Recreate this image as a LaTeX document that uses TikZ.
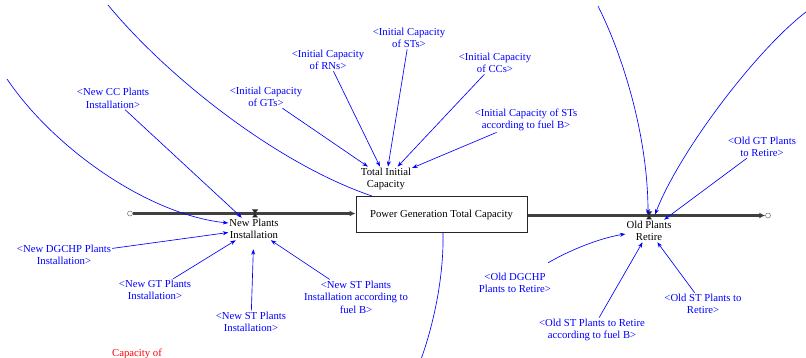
\documentclass[tikz,border=0pt]{standalone}
\usepackage{fontspec}
\setmainfont{Liberation Serif}
\usetikzlibrary{arrows.meta,calc}
\begin{document}
\begin{tikzpicture}[x=1pt,y=-1pt,
  var/.style={font=\fontsize{10.7}{12.6}\selectfont, align=center, inner sep=1pt},
  shad/.style={var, text=blue},
  link/.style={draw=blue, line width=0.65pt, -{Stealth[length=5.5pt,width=4pt]}},
  plainlink/.style={draw=blue, line width=0.65pt},
  pipe/.style={draw=black!75, line width=3pt},
  pipetip/.style={-{Latex[length=6pt,width=6pt]}},
  cloud/.style={circle, draw=black!55, line width=0.5pt, inner sep=0pt, minimum size=5pt},
  stockbox/.style={draw=black!85, line width=1pt, fill=white, minimum width=171pt, minimum height=36pt, inner sep=0pt, font=\fontsize{10.7}{12.6}\selectfont},
  valvefill/.style={fill=black!85}]
\useasboundingbox (0,0) rectangle (806,358);
\clip (0,0) rectangle (806,358);

% stock and flow variables
\node[stockbox] (pgtc) at (441.5,214.5) {Power Generation Total Capacity};
\node[var] (tic) at (386,179) {Total Initial\\Capacity};
\node[var] (npi) at (254,229) {New Plants\\Installation};
\node[var] (opr) at (649,231) {Old Plants\\Retire};

% shadow variables
\node[shad] (igt) at (266,97) {<Initial Capacity\\of GTs>};
\node[shad] (irn) at (328,60) {<Initial Capacity\\of RNs>};
\node[shad] (ist) at (409,38) {<Initial Capacity\\of STs>};
\node[shad] (icc) at (495,63) {<Initial Capacity\\of CCs>};
\node[shad] (isb) at (526,120) {<Initial Capacity of STs\\according to fuel B>};
\node[shad] (ogt) at (762,147) {<Old GT Plants\\to Retire>};
\node[shad] (ncc) at (113,98.5) {<New CC Plants\\Installation>};
\node[shad] (ndg) at (64,255) {<New DGCHP Plants\\Installation>};
\node[shad] (ngt) at (155,290) {<New GT Plants\\Installation>};
\node[shad] (nst) at (251,322) {<New ST Plants\\Installation>};
\node[shad] (nsb) at (356,297) {<New ST Plants\\Installation according to\\fuel B>};
\node[shad] (odg) at (515,283) {<Old DGCHP\\Plants to Retire>};
\node[shad] (osb) at (592,330) {<Old ST Plants to Retire\\according to fuel B>};
\node[shad] (ost) at (703,304) {<Old ST Plants to\\Retire>};
\node[var, text=red, anchor=base] (cap) at (137,356.5) {Capacity of};

% clouds and valves
\node[cloud] (srcC) at (130,213.5) {};
\node[cloud] (snkC) at (768,215.5) {};
\coordinate (v1) at (255,213.5);
\coordinate (v2) at (649,215.5);

% pipes
\draw[pipe,pipetip] (srcC.east) -- (pgtc.west |- srcC);
\draw[pipe,pipetip] (pgtc.east |- snkC) -- (snkC.west);
\fill[valvefill] ($(v1)+(-3,-4)$) -- ($(v1)+(3,-4)$) -- ($(v1)+(-3,4)$) -- ($(v1)+(3,4)$) -- cycle;
\fill[valvefill] ($(v2)+(-3,-4)$) -- ($(v2)+(3,-4)$) -- ($(v2)+(-3,4)$) -- ($(v2)+(3,4)$) -- cycle;

% free ends of off-picture connectors
\coordinate (c1s) at (7,79);
\coordinate (c2e) at (108,5);
\coordinate (c3s) at (598,6);
\coordinate (c4s) at (810,9);
\coordinate (c5e) at (420,362);

% links
\draw[link] (igt) -- (tic);
\draw[link] (irn) -- (tic);
\draw[link] (ist) -- (tic);
\draw[link] (icc) -- (tic);
\draw[link] (isb) -- (tic);
\draw[link] (ncc) -- (npi);
\draw[link] (ndg) -- (npi);
\draw[link] (ngt) -- (npi);
\draw[link, shorten >=9pt] (nst) -- (npi);
\draw[link] (nsb) -- (npi);
\draw[link] (ogt) -- (opr);
\draw[link] (osb) -- (opr);
\draw[link] (ost) -- (opr);
\draw[link] ([shift={(-4,-9)}]odg.north east) .. controls (570,250) and (600,238) .. ([shift={(0,3)}]opr.west);
\draw[link] (c1s) .. controls (55,150) and (150,215) .. ([shift={(0,-6)}]npi.west);
\draw[plainlink] ([shift={(-69.5,0)}]pgtc.north) .. controls (280,165) and (170,80) .. (c2e);
\draw[link] (c3s) .. controls (625,60) and (648,140) .. ([shift={(-1,-1)}]v2);
\draw[link] (c4s) .. controls (760,45) and (680,150) .. ([shift={(6,-1)}]v2);
\draw[plainlink] ([shift={(1.5,0)}]pgtc.south) .. controls (444,280) and (432,330) .. (c5e);
\end{tikzpicture}
\end{document}
